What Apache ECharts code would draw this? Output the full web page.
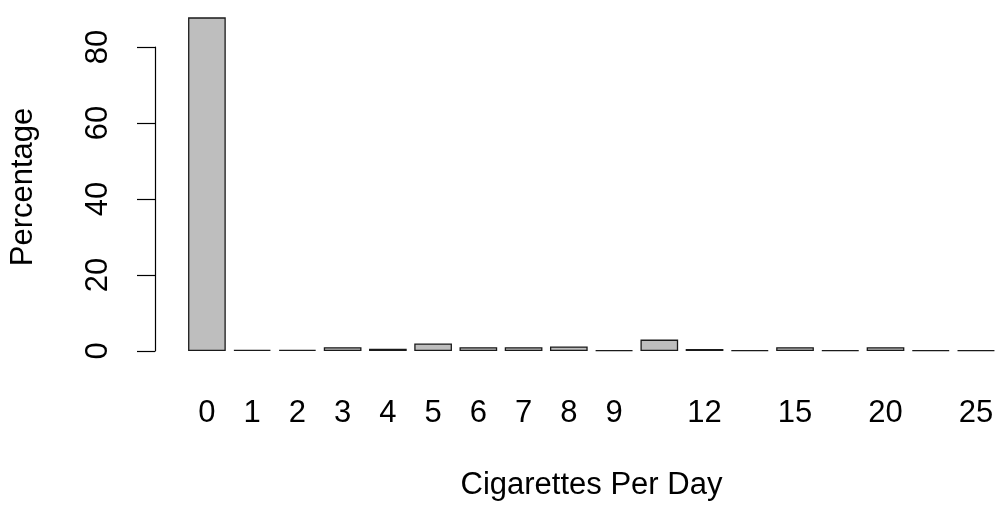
<!DOCTYPE html>
<html>
<head>
<meta charset="utf-8">
<script src="https://cdn.jsdelivr.net/npm/echarts@6/dist/echarts.min.js"></script>
<style>html,body{margin:0;padding:0;background:#fff}#c{width:1000px;height:505px}</style>
</head>
<body>
<div id="c"></div>
<script>
var categories = ['0','1','2','3','4','5','6','7','8','9','10','12','14','15','18','20','22','25'];
var percentages = [87.8,0.3,0.3,1.0,0.6,2.0,1.0,1.0,1.2,0.2,3.0,0.5,0.2,1.0,0.2,1.0,0.2,0.2];
var shownTickLabels = ['0','1','2','3','4','5','6','7','8','9','12','15','20','25'];
var yTicks = [0,20,40,60,80];

var FONT = 'Liberation Sans, Arial, sans-serif';
var chart = echarts.init(document.getElementById('c'), null, {renderer:'canvas'});
chart.setOption({
  backgroundColor:'#fff',
  animation:false,
  grid:{left:184.3, right:1.4, top:47, bottom:154, containLabel:false, outerBoundsMode:'none'},
  xAxis:{
    type:'category',
    data:categories,
    name:'Cigarettes Per Day',
    nameLocation:'middle',
    nameGap:119,
    nameTextStyle:{color:'#000', fontFamily:FONT, fontSize:31},
    axisLine:{show:false},
    axisTick:{show:false},
    axisLabel:{
      color:'#000', fontFamily:FONT, fontSize:31, margin:47,
      interval:function(i, v){ return shownTickLabels.indexOf(v) >= 0; }
    }
  },
  yAxis:{
    type:'value',
    min:yTicks[0], max:yTicks[yTicks.length-1], interval:20,
    offset:29.3,
    name:'Percentage',
    nameLocation:'middle',
    nameGap:116,
    nameRotate:90,
    nameTextStyle:{color:'#000', fontFamily:FONT, fontSize:31, padding:[0,0,0,24]},
    splitLine:{show:false},
    axisLine:{show:true, lineStyle:{color:'#000', width:1.2}},
    axisTick:{show:true, length:18, lineStyle:{color:'#000', width:1.2}},
    axisLabel:{color:'#000', fontFamily:FONT, fontSize:31, rotate:90, margin:41}
  },
  series:[{
    type:'bar',
    data:percentages,
    barWidth:37.7,
    clip:false,
    itemStyle:{color:'#BEBEBE', borderColor:'#1a1a1a', borderWidth:1.3}
  }]
});
</script>
</body>
</html>
